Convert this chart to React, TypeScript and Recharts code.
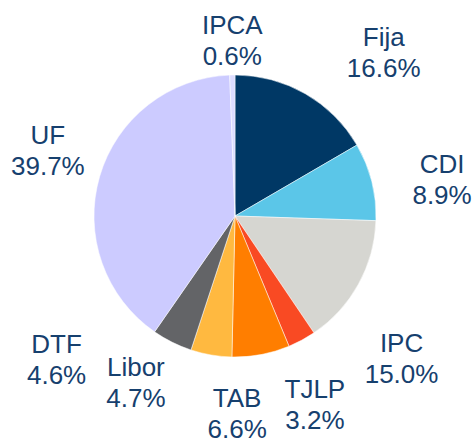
import { PieChart, Pie, Cell } from 'recharts';

// clockwise from 12 o'clock
const names = ['Fija', 'CDI', 'IPC', 'TJLP', 'TAB', 'Libor', 'DTF', 'UF', 'IPCA'];
const shares = [16.6, 8.9, 15.0, 3.2, 6.6, 4.7, 4.6, 39.7, 0.6];
const colors = ['#003865', '#5bc6e8', '#d6d6d1', '#f94a23', '#ff7e00', '#ffb940', '#636467', '#cccbff', '#dcdcff'];

const data = names.map((name, i) => ({ name, value: shares[i] }));

// hand-placed label nudges relative to the mid-angle anchor
const labelNudge: Record<string, [number, number]> = {
  Fija: [51, 6],
  CDI: [17, 11],
  IPC: [-5, 47],
  TJLP: [-13, 15],
  TAB: [-34, 4],
  Libor: [-66, -27],
  DTF: [-91, -32],
  UF: [1, -11],
  IPCA: [1, 20],
};

const RAD = Math.PI / 180;

function renderLabel(props: any) {
  const { cx, cy, midAngle, outerRadius, name, value } = props;
  const r = outerRadius + 55;
  const [dx, dy] = labelNudge[name] || [0, 0];
  const x = cx + r * Math.cos(-midAngle * RAD) + dx;
  const y = cy + r * Math.sin(-midAngle * RAD) + dy;
  return (
    <text x={x} y={y} textAnchor="middle" fill="#16406e" fontSize={26} fontFamily="'Liberation Sans', Arial, sans-serif">
      <tspan x={x} y={y - 6}>{name}</tspan>
      <tspan x={x} y={y + 25}>{`${Number(value).toFixed(1)}%`}</tspan>
    </text>
  );
}

export default function App() {
  return (
    <div style={{ position: 'absolute', left: 0, top: 0, width: 475, height: 440, background: '#fff' }}>
      <PieChart width={475} height={440} margin={{ top: 0, right: 0, bottom: 0, left: 0 }}>
        <Pie
          data={data}
          dataKey="value"
          nameKey="name"
          cx={235}
          cy={216}
          outerRadius={141}
          startAngle={90}
          endAngle={-270}
          stroke="#ffffff"
          strokeWidth={0.5}
          labelLine={false}
          label={renderLabel}
          isAnimationActive={false}
        >
          {data.map((entry, index) => (
            <Cell key={`cell-${entry.name}`} fill={colors[index]} />
          ))}
        </Pie>
      </PieChart>
    </div>
  );
}
